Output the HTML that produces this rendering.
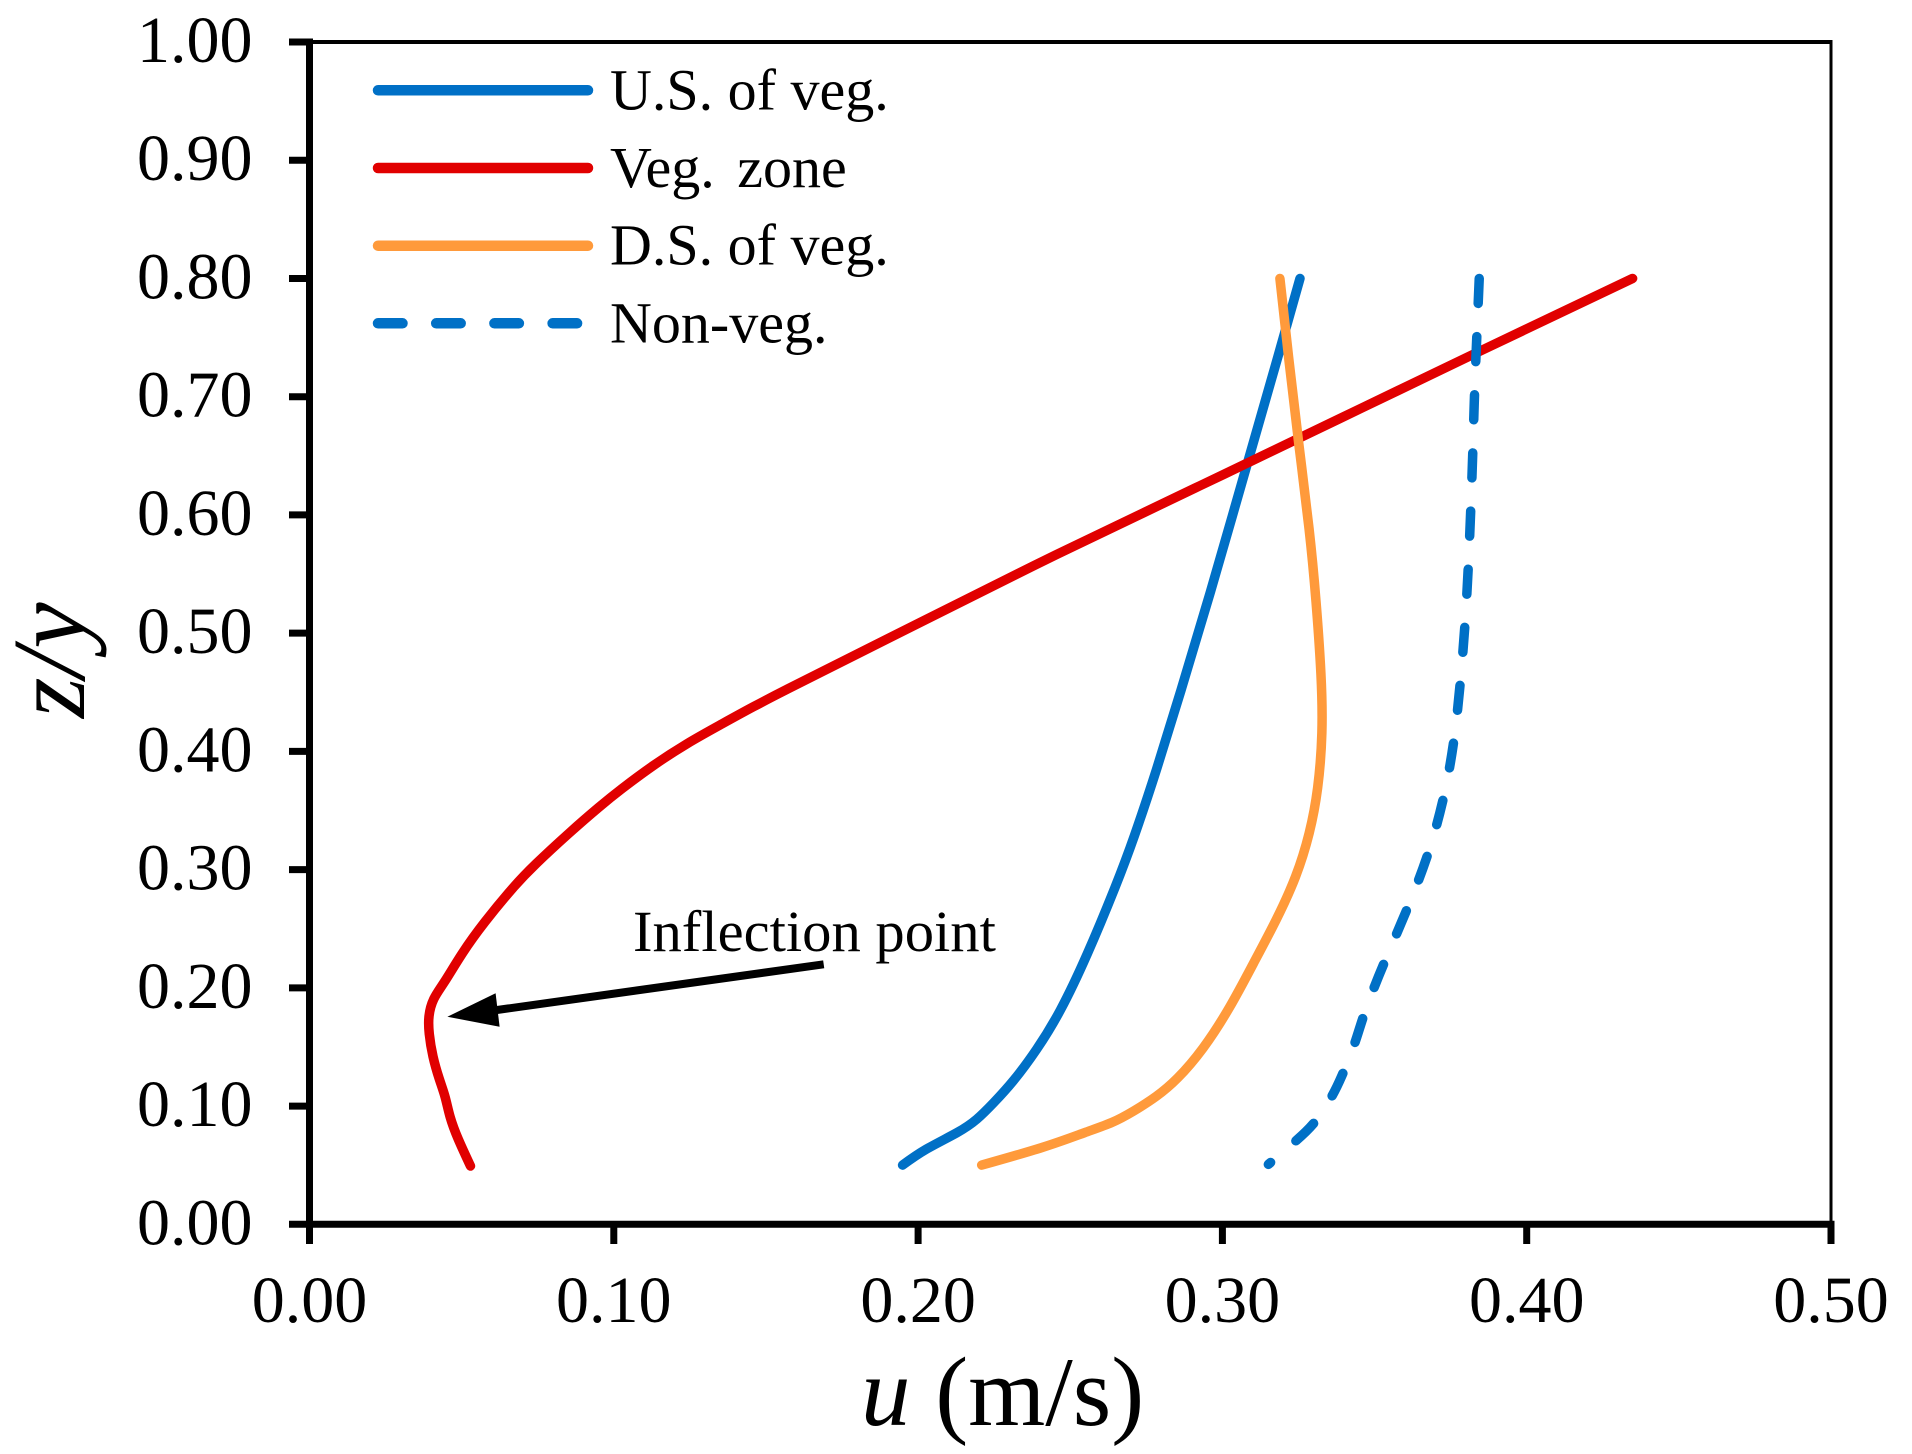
<!DOCTYPE html>
<html lang="en">
<head>
<meta charset="utf-8">
<title>Velocity profiles</title>
<style>
html,body{margin:0;padding:0;background:#fff;}
svg{display:block;}
text{font-family:"Liberation Serif",serif;fill:#000;}
</style>
</head>
<body>
<svg id="chart" xmlns="http://www.w3.org/2000/svg" width="1912" height="1454" viewBox="0 0 1912 1454">
<rect x="0" y="0" width="1912" height="1454" fill="#ffffff"/>
<g id="series-layer"></g>
<g id="axes-layer"></g>
<g id="legend-layer"></g>
<g>
<text x="633" y="951" font-size="58.6">Inflection point</text>
<line x1="823.7" y1="964.3" x2="490" y2="1011" stroke="#000" stroke-width="8"/>
<polygon points="447.4,1016.7 495.6,993.3 499.6,1026.7" fill="#000"/>
</g>
<text x="861" y="1425" font-size="99"><tspan font-style="italic">u</tspan> (m/s)</text>
<text transform="translate(84,718) rotate(-90)" font-size="104" font-style="italic">z/y</text>
</svg>
<script>
const uTicks = ["0.00","0.10","0.20","0.30","0.40","0.50"];
const zTicks = ["0.00","0.10","0.20","0.30","0.40","0.50","0.60","0.70","0.80","0.90","1.00"];

const usVegU = [.1949,.2016,.2138,.2193,.2247,.2313,.2390,.2466,.2554,.2654,.2707,.2784,.2861,.2954,.3085,.3189,.3255];
const usVegZ = [.0501,.0628,.0783,.0882,.1023,.1206,.1474,.1787,.2263,.2887,.325,.3842,.4491,.528,.6464,.7395,.800];

const vegZoneU = [.0529,.0486,.0460,.0447,.0427,.0404,.0392,.0390,.0405,.0440,.0501,.0571,.0675,.0735,.0856,.0955,.1020,.1130,.1240,.1349,.1458,.1568,.1678,.1809,.1941,.2466,.2926,.3387,.3836,.4348];
const vegZoneZ = [.0493,.073,.091,.108,.122,.142,.162,.176,.191,.2030,.2295,.2546,.2870,.3030,.3318,.3538,.3673,.3885,.4068,.4223,.4378,.4524,.4665,.4836,.5005,.5685,.6245,.6816,.7374,.800];

const dsVegU = [.2209,.2423,.2554,.2641,.2706,.2784,.2850,.2936,.3025,.3102,.3178,.3244,.3288,.3315,.3330,.3326,.3308,.3288,.3249,.3217,.3189];
const dsVegZ = [.0501,.0656,.0783,.0859,.0952,.1079,.122,.1474,.183,.2208,.2574,.294,.331,.3673,.4155,.4632,.528,.5845,.6634,.7338,.800];

const nonVegU = [.3151,.3236,.3299,.3359,.3392,.3436,.3458,.3496,.3527,.3603,.3674,.3726,.3761,.3781,.3797,.3808,.3816,.3823,.3828,.3836,.3844];
const nonVegZ = [.0507,.0694,.0834,.1068,.1248,.1525,.1727,.1988,.2187,.2636,.3096,.3569,.4054,.4547,.5041,.5534,.6027,.6522,.7014,.7507,.800];

const legendLabels = ["U.S. of veg.","Veg. zone","D.S. of veg.","Non-veg."];

const NS = "http://www.w3.org/2000/svg";
const X0 = 309.5, XSPAN = 1521.5, Y0 = 1224.3, YSPAN = 1182.3;
function xScale(u){ return X0 + (u / 0.5) * XSPAN; }
function yScale(z){ return Y0 - z * YSPAN; }

function make(tag, attrs, parent){
  const el = document.createElementNS(NS, tag);
  for (const k in attrs) el.setAttribute(k, attrs[k]);
  parent.appendChild(el);
  return el;
}

/* Uniform cubic B-spline through the data points, clamped to both end points. */
function smoothPath(us, zs, reverse){
  let pts = us.map(function(u, i){ return [xScale(u), yScale(zs[i])]; });
  if (reverse) pts = pts.slice().reverse();
  const n = pts.length;
  const get = function(i){
    if (i < 0) return [2 * pts[0][0] - pts[1][0], 2 * pts[0][1] - pts[1][1]];
    if (i >= n) return [2 * pts[n - 1][0] - pts[n - 2][0], 2 * pts[n - 1][1] - pts[n - 2][1]];
    return pts[i];
  };
  let d = "M" + pts[0][0].toFixed(2) + " " + pts[0][1].toFixed(2);
  for (let i = 0; i < n - 1; i++){
    const a = get(i), b = get(i + 1), c = get(i + 2);
    const c1x = (2 * a[0] + b[0]) / 3, c1y = (2 * a[1] + b[1]) / 3;
    const c2x = (a[0] + 2 * b[0]) / 3, c2y = (a[1] + 2 * b[1]) / 3;
    const ex = (a[0] + 4 * b[0] + c[0]) / 6, ey = (a[1] + 4 * b[1] + c[1]) / 6;
    d += "C" + c1x.toFixed(2) + " " + c1y.toFixed(2) + " " + c2x.toFixed(2) + " " + c2y.toFixed(2) + " " + ex.toFixed(2) + " " + ey.toFixed(2);
  }
  return d;
}

const BLUE = "#0070c6", RED = "#e10000", ORANGE = "#ff9a3b";
const seriesLayer = document.getElementById("series-layer");
const axesLayer = document.getElementById("axes-layer");
const legendLayer = document.getElementById("legend-layer");

const usLine = make("path", {d: smoothPath(usVegU, usVegZ, false), fill: "none", stroke: BLUE, "stroke-width": 9.5, "stroke-linecap": "round", "stroke-linejoin": "round"}, seriesLayer);



const vegLine = make("path", {d: smoothPath(vegZoneU, vegZoneZ, false), fill: "none", stroke: RED, "stroke-width": 9.5, "stroke-linecap": "round", "stroke-linejoin": "round"}, seriesLayer);



const dsLine = make("path", {d: smoothPath(dsVegU, dsVegZ, false), fill: "none", stroke: ORANGE, "stroke-width": 9.5, "stroke-linecap": "round", "stroke-linejoin": "round"}, seriesLayer);



const nonLine = make("path", {d: smoothPath(nonVegU, nonVegZ, true), fill: "none", stroke: BLUE, "stroke-width": 9.5, "stroke-linecap": "round", "stroke-linejoin": "round", "stroke-dasharray": "25 33.2"}, seriesLayer);



/* frame */
const topLine = make("line", {x1: X0, y1: 42, x2: X0 + XSPAN, y2: 42, stroke: "#000", "stroke-width": 4}, axesLayer);


const rightLine = make("line", {x1: X0 + XSPAN, y1: 40, x2: X0 + XSPAN, y2: Y0, stroke: "#000", "stroke-width": 3}, axesLayer);


const yAxisLine = make("line", {x1: X0, y1: 38.5, x2: X0, y2: Y0, stroke: "#000", "stroke-width": 7}, axesLayer);


const xAxisLine = make("line", {x1: X0 - 3.5, y1: Y0, x2: X0 + XSPAN + 3.5, y2: Y0, stroke: "#000", "stroke-width": 7}, axesLayer);



/* ticks and labels */
zTicks.forEach(function(label){
  const yy = yScale(parseFloat(label));
  const tick = make("line", {x1: 289, y1: yy, x2: X0, y2: yy, stroke: "#000", "stroke-width": 7}, axesLayer);
  
  
  const t = make("text", {x: 252.5, y: yy + 20, "font-size": 66, "text-anchor": "end"}, axesLayer);
  
  
  t.textContent = label;
});
uTicks.forEach(function(label){
  const xx = xScale(parseFloat(label));
  const tick = make("line", {x1: xx, y1: Y0, x2: xx, y2: 1244, stroke: "#000", "stroke-width": 7}, axesLayer);
  
  
  const t = make("text", {x: xx, y: 1322, "font-size": 66, "text-anchor": "middle"}, axesLayer);
  
  
  t.textContent = label;
});

/* legend */
const legendColors = [BLUE, RED, ORANGE, BLUE];
const legendLineY = [90.3, 168, 245.7, 323.3];
legendLabels.forEach(function(label, i){
  const dashed = i === 3;
  const attrs = {x1: 378, y1: legendLineY[i], x2: dashed ? 578 : 588, y2: legendLineY[i], stroke: legendColors[i], "stroke-width": 10.5, "stroke-linecap": "round"};
  if (dashed) attrs["stroke-dasharray"] = "24.5 33.7";
  const ln = make("line", attrs, legendLayer);
  
  
  const t = make("text", {x: 610, y: legendLineY[i] + 19, "font-size": 58}, legendLayer);
  
  
  if (i === 1) t.setAttribute('word-spacing', '8');
  t.textContent = label;
});
</script>
</body>
</html>
